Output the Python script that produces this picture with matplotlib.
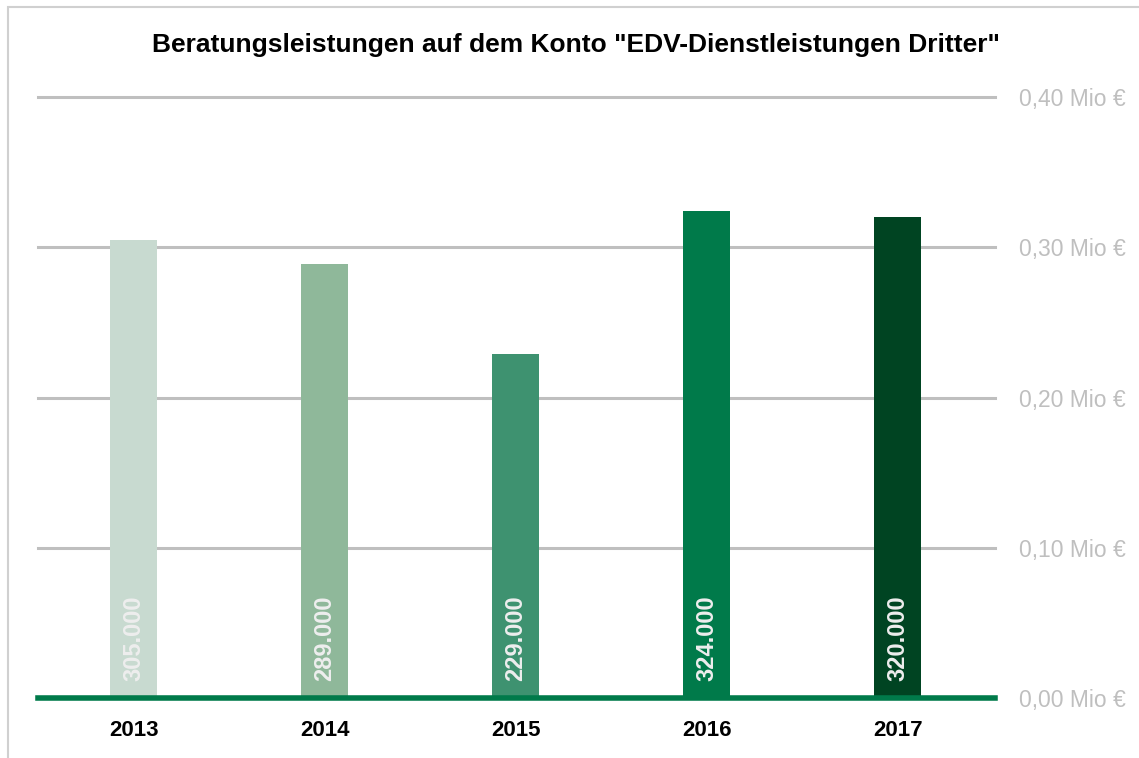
import matplotlib.pyplot as plt
from matplotlib.patches import Rectangle

years = ['2013', '2014', '2015', '2016', '2017']
values = [305000, 289000, 229000, 324000, 320000]
bar_colors = ['#C8DAD0', '#8FB89A', '#3E9270', '#007A4A', '#004422']
labels = ['305.000', '289.000', '229.000', '324.000', '320.000']
y_ticks = [0.0, 0.1, 0.2, 0.3, 0.4]
y_tick_labels = ['0,00 Mio €', '0,10 Mio €', '0,20 Mio €', '0,30 Mio €', '0,40 Mio €']

plt.rcParams['font.family'] = ['Liberation Sans', 'DejaVu Sans']

W, H = 1139, 758
fig = plt.figure(figsize=(W / 100, H / 100), dpi=100)
ax = fig.add_axes([38 / W, 1 - 698 / H, (995 - 38) / W, (698 - 97) / H])

# gridlines
for t in y_ticks[1:]:
    ax.axhline(t, color='#BFBFBF', lw=2.2, zorder=0, clip_on=False)

vals_mio = [v / 1e6 for v in values]
x = range(len(years))
ax.bar(x, vals_mio, width=0.25, color=bar_colors, zorder=2)
ax.axhline(0, color='#007A4A', lw=4, zorder=3, clip_on=False)

for i, lab in enumerate(labels):
    ax.text(i, 0.011, lab, rotation=90, ha='center', va='bottom',
            color='#EEEEEE', fontsize=17, fontweight='bold', zorder=4)

ax.set_xlim(-0.5, 4.51)
ax.set_ylim(0, 0.4)
ax.set_xticks(list(x))
ax.set_xticklabels(years, fontsize=16, fontweight='bold')
ax.tick_params(axis='x', length=0, pad=16)

ax.yaxis.tick_right()
ax.set_yticks(y_ticks)
ax.set_yticklabels(y_tick_labels, fontsize=16.5, color='#BFBFBF')
ax.tick_params(axis='y', length=0, pad=17)

for s in ax.spines.values():
    s.set_visible(False)

fig.text((155 + 997) / 2 / W, 1 - 45 / H,
         'Beratungsleistungen auf dem Konto "EDV-Dienstleistungen Dritter"',
         ha='center', va='center', fontsize=19, fontweight='bold')

fig.patches.append(Rectangle((8 / W, -0.1), 1.2, 1 - 7 / H + 0.1, transform=fig.transFigure,
                             fill=False, edgecolor='#D0D0D0', lw=1.5))

fig.savefig('out.png', dpi=100)
